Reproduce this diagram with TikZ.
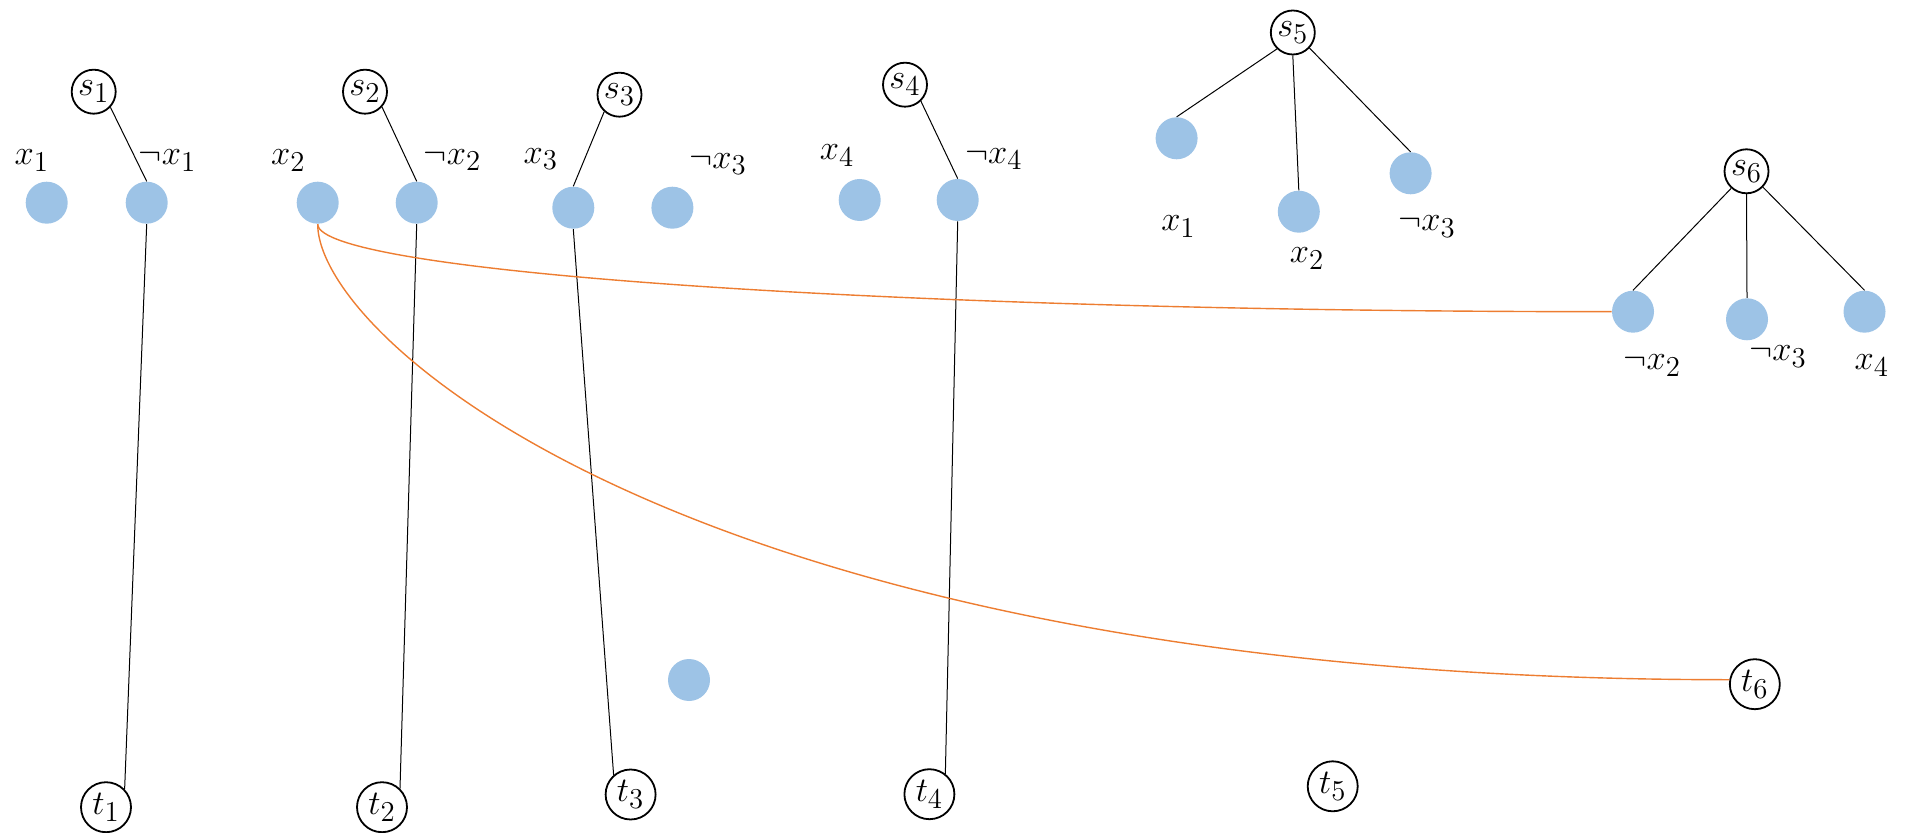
\documentclass[tikz,border=0pt]{standalone}
\definecolor{dotblue}{RGB}{157,195,230}
\definecolor{edgeorange}{RGB}{237,125,49}
\tikzset{
  dotnode/.style={circle, fill=dotblue, draw=none, minimum size=21pt, inner sep=0pt},
  snode/.style={circle, draw=black, line width=0.9pt, minimum size=22pt, inner sep=0pt, font=\fontsize{19}{22}\selectfont},
  tnode/.style={circle, draw=black, line width=0.9pt, minimum size=25pt, inner sep=0pt, font=\fontsize{19}{22}\selectfont},
  lbl/.style={inner sep=0pt, font=\fontsize{19}{22}\selectfont},
  blackedge/.style={draw=black, line width=0.5pt},
  orangeedge/.style={draw=edgeorange, line width=0.7pt}
}
\begin{document}
\begin{tikzpicture}[x=0.5pt, y=-0.5pt]
\useasboundingbox (0,0) rectangle (1915,833);
% source nodes
\node[snode] (s1) at (93.7,91.7) {$s_1$};
\node[snode] (s2) at (365,91.7) {$s_2$};
\node[snode] (s3) at (619.5,94.7) {$s_3$};
\node[snode] (s4) at (905,84.7) {$s_4$};
\node[snode] (s5) at (1292.8,32.5) {$s_5$};
\node[snode] (s6) at (1746.5,171.3) {$s_6$};
% sink nodes
\node[tnode] (t1) at (106,807.2) {$t_1$};
\node[tnode] (t2) at (382,807.2) {$t_2$};
\node[tnode] (t3) at (630.6,794.5) {$t_3$};
\node[tnode] (t4) at (929.4,794.2) {$t_4$};
\node[tnode] (t5) at (1332.7,786.3) {$t_5$};
\node[tnode] (t6) at (1754.8,684.2) {$t_6$};
% literal dots, top row
\node[dotnode] (a1) at (46.7,202.7) {};
\node[dotnode] (b1) at (146.7,202.7) {};
\node[dotnode] (a2) at (317.7,202.7) {};
\node[dotnode] (b2) at (416.7,202.7) {};
\node[dotnode] (a3) at (573.3,207.7) {};
\node[dotnode] (b3) at (672.4,207.7) {};
\node[dotnode] (a4) at (859.7,200) {};
\node[dotnode] (b4) at (957.7,200) {};
% clause s5
\node[dotnode] (c1) at (1176.6,138.3) {};
\node[dotnode] (c2) at (1298.8,211.7) {};
\node[dotnode] (c3) at (1410.6,173.3) {};
% clause s6
\node[dotnode] (d1) at (1633,311.7) {};
\node[dotnode] (d2) at (1747,319.3) {};
\node[dotnode] (d3) at (1864.5,311.7) {};
% lone dot
\node[dotnode] (e1) at (689,680) {};
% labels
\node[lbl] (la1) at (31.7,160.7) {$x_1$};
\node[lbl] (lb1) at (167.5,160.7) {$\neg x_1$};
\node[lbl] (la2) at (288.3,160.8) {$x_2$};
\node[lbl] (lb2) at (452.5,160) {$\neg x_2$};
\node[lbl] (la3) at (540.7,159) {$x_3$};
\node[lbl] (lb3) at (718,164) {$\neg x_3$};
\node[lbl] (la4) at (837,155.8) {$x_4$};
\node[lbl] (lb4) at (993.8,159) {$\neg x_4$};
\node[lbl] (lc1) at (1178.4,226.7) {$x_1$};
\node[lbl] (lc2) at (1307,258.3) {$x_2$};
\node[lbl] (lc3) at (1427,226.7) {$\neg x_3$};
\node[lbl] (ld1) at (1652.3,365.8) {$\neg x_2$};
\node[lbl] (ld2) at (1778,356.7) {$\neg x_3$};
\node[lbl] (ld3) at (1871.7,365.8) {$x_4$};
% black edges
\draw[blackedge] (s1.-43) -- (b1.north);
\draw[blackedge] (b1.south) -- (t1.44);
\draw[blackedge] (s2.-42) -- (b2.north);
\draw[blackedge] (b2.south) -- (t2.46);
\draw[blackedge] (s3.-132) -- (a3.north);
\draw[blackedge] (a3.south) -- (t3.131);
\draw[blackedge] (s4.-46) -- (b4.north);
\draw[blackedge] (b4.south) -- (t4.52);
\draw[blackedge] (s5.-134) -- (c1.north);
\draw[blackedge] (s5.south) -- (c2.north);
\draw[blackedge] (s5.-43) -- (c3.north);
\draw[blackedge] (s6.-132) -- (d1.north);
\draw[blackedge] (s6.south) -- (d2.north);
\draw[blackedge] (s6.-44) -- (d3.north);
% orange edges
\draw[orangeedge] (a2.south) .. controls +(0,48.6) and +(-714.5,0) .. (d1.west);
\draw[orangeedge] (a2.south) .. controls +(0,116) and +(-1030,0) .. (t6.170);
\end{tikzpicture}
\end{document}
